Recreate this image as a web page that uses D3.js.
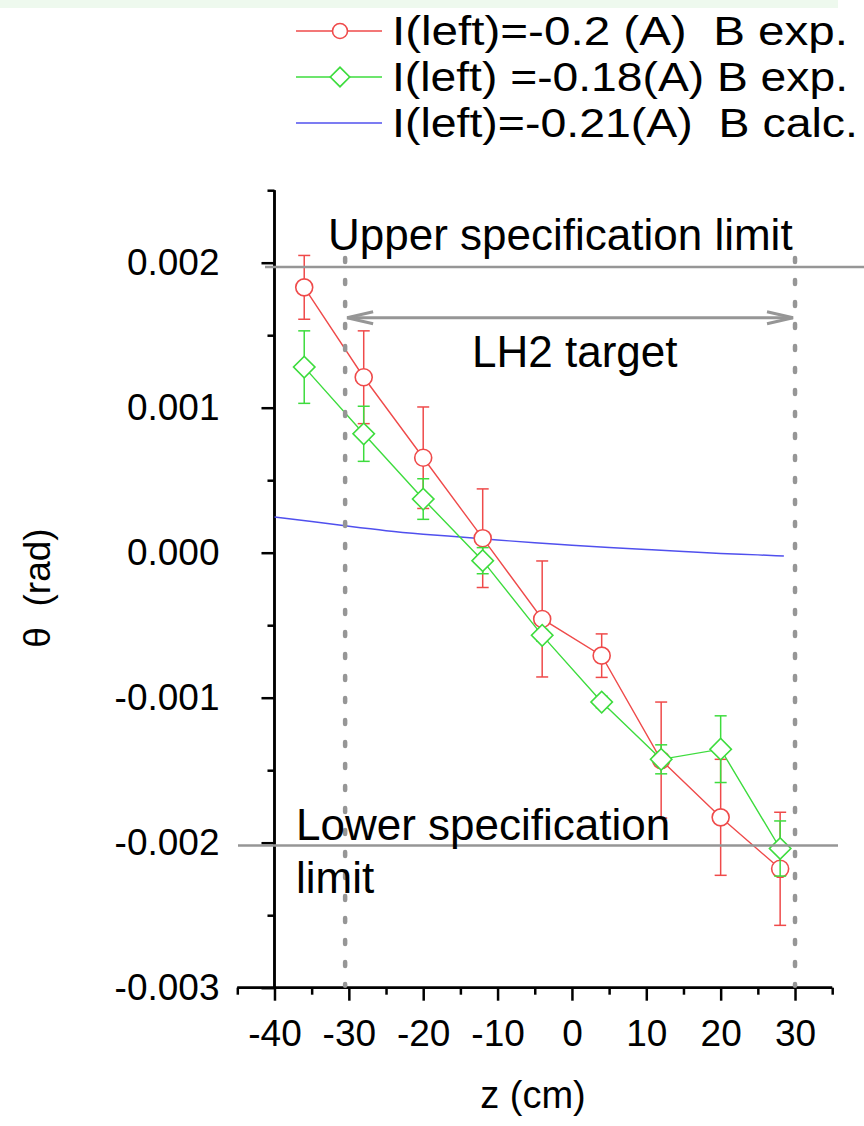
<!DOCTYPE html>
<html>
<head>
<meta charset="utf-8">
<script src="https://cdn.jsdelivr.net/npm/d3@7"></script>
<style>
  html, body { margin: 0; padding: 0; background: #fff; }
  svg { display: block; font-family: "Liberation Sans", Arial, sans-serif; }
  text { white-space: pre; }
</style>
</head>
<body>
<svg id="chart" width="864" height="1126"></svg>
<script>
// ---------- data ----------
const zPositions = [-36, -28, -20, -12, -4, 4, 12, 20, 28];
const redValues = [0.00183, 0.00121, 0.000655, 0.0001, -0.000457, -0.00071, -0.00143, -0.001825, -0.00218];
const redErrors = [0.00022, 0.00032, 0.00035, 0.00034, 0.0004, 0.00015, 0.0004, 0.0004, 0.00039];
const greenValues = [0.00128, 0.00082, 0.00037, -0.000055, -0.00057, -0.00103, -0.001425, -0.001355, -0.00204];
const greenErrors = [0.00025, 0.00019, 0.00014, 0.00009, 0.00004, 0.00004, 0.0001, 0.00023, 0.00019];
const blueZ = [-40, -35, -30, -25, -20, -15, -10, -5, 0, 5, 10, 15, 20, 25, 28.5];
const blueValues = [0.000246, 0.000215, 0.000182, 0.000152, 0.000128, 0.000108, 0.000088, 0.000068, 0.000052, 0.000036, 0.000022, 0.000008, -0.000005, -0.000015, -0.000023];
const xMajorTicks = [-40, -30, -20, -10, 0, 10, 20, 30];
const xMinorTicks = [-45, -35, -25, -15, -5, 5, 15, 25, 35];
const yMajorTicks = [-0.003, -0.002, -0.001, 0, 0.001, 0.002];
const yMinorTicks = [-0.0025, -0.0015, -0.0005, 0.0005, 0.0015, 0.0025];
const legendLabels = ["I(left)=-0.2 (A)  B exp.", "I(left) =-0.18(A) B exp.", "I(left)=-0.21(A)  B calc."];
const upperLimit = 0.00197, lowerLimit = -0.00202;
const targetStart = -30.5, targetEnd = 30;
const arrowLevel = 0.00162;

// ---------- style ----------
const RED = "#ef4a4a", GREEN = "#3ddc3d", BLUE = "#5050ee", GRAY = "#969696";
const FONT = "Liberation Sans, Arial, sans-serif";

const svg = d3.select("#chart");
svg.append("rect").attr("x", 0).attr("y", 0).attr("width", 838).attr("height", 8).attr("fill", "#eef9ee");

const x = d3.scaleLinear().domain([-45, 35]).range([237.3, 832.2]);
const y = d3.scaleLinear().domain([-0.003, 0.0025]).range([987.7, 190.2]);

// axes
const xAxisG = svg.append("g").attr("transform", `translate(0,${y(-0.003)})`);
xAxisG.call(d3.axisBottom(x).tickValues(xMajorTicks).tickSize(13).tickPadding(19).tickFormat(d => String(d)));
xAxisG.append("g").call(d3.axisBottom(x).tickValues(xMinorTicks).tickSize(7).tickFormat(""));
xAxisG.selectAll(".domain").attr("stroke", "#000").attr("stroke-width", 2.5).attr("d", `M${x(-45)},0H${x(35)}`);
xAxisG.selectAll(".tick line").attr("stroke", "#000").attr("stroke-width", 2.5);
xAxisG.selectAll(".tick text").attr("font-size", 37).attr("fill", "#000").attr("font-family", FONT);

const yAxisG = svg.append("g").attr("transform", `translate(${x(-40)},0)`);
yAxisG.call(d3.axisLeft(y).tickValues(yMajorTicks).tickSize(13).tickPadding(42).tickFormat(d => d.toFixed(3)));
yAxisG.append("g").call(d3.axisLeft(y).tickValues(yMinorTicks).tickSize(7).tickFormat(""));
yAxisG.selectAll(".domain").attr("stroke", "#000").attr("stroke-width", 2.5).attr("d", `M0,${y(0.0025)}V${y(-0.003)}`);
yAxisG.selectAll(".tick line").attr("stroke", "#000").attr("stroke-width", 2.5);
yAxisG.selectAll(".tick text").attr("font-size", 37).attr("fill", "#000").attr("font-family", FONT);

// axis titles
svg.append("text").attr("x", 533).attr("y", 1108).attr("text-anchor", "middle").attr("font-size", 38).text("z (cm)");
svg.append("text").attr("transform", "translate(50,588) rotate(-90)").attr("text-anchor", "middle").attr("font-size", 37).text("θ  (rad)");

// data helpers
function drawSeries(vals, errs, color, shape) {
  const g = svg.append("g");
  const pts = zPositions.map((z, i) => ({ z, v: vals[i], e: errs[i] }));
  const eb = g.selectAll(".eb").data(pts).join("g");
  eb.append("line").attr("x1", d => x(d.z)).attr("x2", d => x(d.z)).attr("y1", d => y(d.v + d.e)).attr("y2", d => y(d.v - d.e)).attr("stroke", color).attr("stroke-width", 1.5);
  eb.append("line").attr("x1", d => x(d.z) - 6).attr("x2", d => x(d.z) + 6).attr("y1", d => y(d.v + d.e)).attr("y2", d => y(d.v + d.e)).attr("stroke", color).attr("stroke-width", 1.5);
  eb.append("line").attr("x1", d => x(d.z) - 6).attr("x2", d => x(d.z) + 6).attr("y1", d => y(d.v - d.e)).attr("y2", d => y(d.v - d.e)).attr("stroke", color).attr("stroke-width", 1.5);
  g.append("path").datum(pts).attr("d", d3.line().x(d => x(d.z)).y(d => y(d.v))).attr("fill", "none").attr("stroke", color).attr("stroke-width", 1.4);
  if (shape === "circle") {
    g.selectAll(".m").data(pts).join("circle").attr("cx", d => x(d.z)).attr("cy", d => y(d.v)).attr("r", 8.5).attr("fill", "#fff").attr("stroke", color).attr("stroke-width", 1.6);
  } else {
    const sym = d3.symbol().type(d3.symbolSquare).size(230);
    g.selectAll(".m").data(pts).join("path").attr("d", sym).attr("transform", d => `translate(${x(d.z)},${y(d.v)}) rotate(45)`).attr("fill", "#fff").attr("stroke", color).attr("stroke-width", 1.6);
  }
}

// blue calc line
svg.append("path").datum(blueZ.map((z, i) => ({ z, v: blueValues[i] })))
  .attr("d", d3.line().curve(d3.curveMonotoneX).x(d => x(d.z)).y(d => y(d.v)))
  .attr("fill", "none").attr("stroke", BLUE).attr("stroke-width", 1.5);

drawSeries(redValues, redErrors, RED, "circle");
drawSeries(greenValues, greenErrors, GREEN, "diamond");

// spec limit lines
svg.append("line").attr("x1", 265).attr("x2", 864).attr("y1", y(upperLimit)).attr("y2", y(upperLimit)).attr("stroke", GRAY).attr("stroke-width", 2.5);
svg.append("line").attr("x1", 238).attr("x2", 838).attr("y1", y(lowerLimit)).attr("y2", y(lowerLimit)).attr("stroke", GRAY).attr("stroke-width", 2.5);

// dashed target boundaries
[targetStart, targetEnd].forEach(t => {
  svg.append("line").attr("x1", x(t)).attr("x2", x(t)).attr("y1", 258).attr("y2", y(-0.003) - 2)
    .attr("stroke", GRAY).attr("stroke-width", 4.5).attr("stroke-linecap", "round").attr("stroke-dasharray", "4,18");
});

// double arrow
const ay = y(arrowLevel), ax1 = x(targetStart) + 2, ax2 = x(targetEnd) - 2;
svg.append("line").attr("x1", ax1).attr("x2", ax2).attr("y1", ay).attr("y2", ay).attr("stroke", GRAY).attr("stroke-width", 3);
svg.append("path").attr("d", `M${ax1 + 26},${ay - 6}L${ax1},${ay}L${ax1 + 26},${ay + 6}`).attr("fill", "none").attr("stroke", GRAY).attr("stroke-width", 3);
svg.append("path").attr("d", `M${ax2 - 26},${ay - 6}L${ax2},${ay}L${ax2 - 26},${ay + 6}`).attr("fill", "none").attr("stroke", GRAY).attr("stroke-width", 3);

// annotations
svg.append("text").attr("x", 328).attr("y", 250).attr("font-size", 44).text("Upper specification limit");
svg.append("text").attr("x", 472).attr("y", 367).attr("font-size", 44).text("LH2 target");
svg.append("text").attr("x", 296).attr("y", 840).attr("font-size", 44).text("Lower specification");
svg.append("text").attr("x", 296).attr("y", 893).attr("font-size", 44).text("limit");

// legend
const legendColors = [RED, GREEN, BLUE];
const legendY = [31, 77, 123];
const legendWidths = [456, 456, 466];
legendLabels.forEach((lab, i) => {
  const ly = legendY[i];
  svg.append("line").attr("x1", 296).attr("x2", 382).attr("y1", ly).attr("y2", ly).attr("stroke", legendColors[i]).attr("stroke-width", 1.5);
  if (i === 0) svg.append("circle").attr("cx", 340).attr("cy", ly).attr("r", 7.5).attr("fill", "#fff").attr("stroke", RED).attr("stroke-width", 1.6);
  if (i === 1) svg.append("path").attr("d", d3.symbol().type(d3.symbolSquare).size(190)).attr("transform", `translate(340,${ly}) rotate(45)`).attr("fill", "#fff").attr("stroke", GREEN).attr("stroke-width", 1.6);
  svg.append("text").attr("x", 392).attr("y", ly + 14).attr("font-size", 40)
    .attr("textLength", legendWidths[i]).attr("lengthAdjust", "spacingAndGlyphs").text(lab);
});
</script>
</body>
</html>
